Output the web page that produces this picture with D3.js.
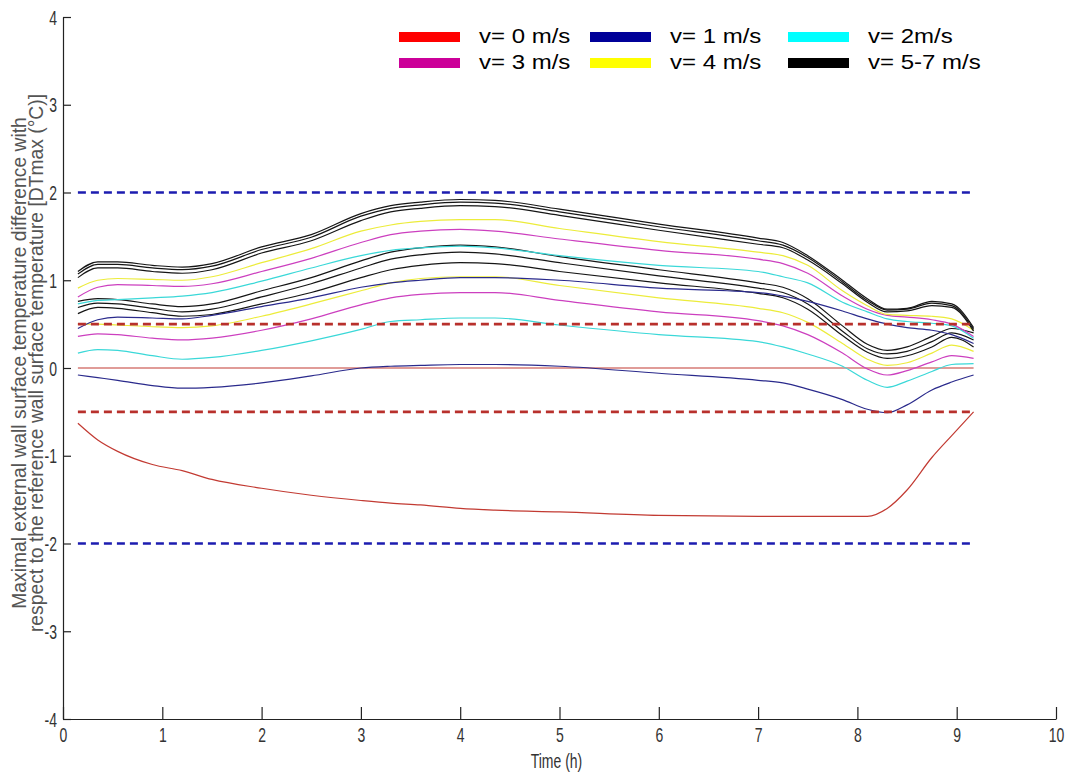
<!DOCTYPE html>
<html>
<head>
<meta charset="utf-8">
<script src="https://cdn.jsdelivr.net/npm/d3@7"></script>
<style>
  html, body { margin: 0; padding: 0; background: #fff; }
  svg { display: block; }
</style>
</head>
<body>
<svg id="chart" width="1065" height="772"></svg>
<script>
// ---------------- data ----------------
const time = [0.15,0.35,0.55,0.9,1.2,1.5,2.0,2.5,3.0,3.3,3.6,4.0,4.35,5.0,6.0,7.0,7.25,7.5,7.85,8.1,8.3,8.5,8.75,8.95,9.17];

// upper case
const black1a = [1.10,1.21,1.21,1.17,1.15,1.19,1.38,1.52,1.76,1.85,1.89,1.92,1.91,1.81,1.64,1.48,1.43,1.28,1.00,0.79,0.67,0.68,0.76,0.73,0.46];
const black1b = [1.07,1.18,1.18,1.14,1.12,1.16,1.35,1.49,1.73,1.82,1.86,1.89,1.88,1.78,1.61,1.45,1.40,1.26,0.98,0.77,0.66,0.67,0.74,0.71,0.44];
const black1c = [1.03,1.14,1.14,1.10,1.08,1.12,1.31,1.45,1.68,1.78,1.82,1.85,1.84,1.74,1.57,1.41,1.37,1.23,0.96,0.75,0.64,0.65,0.71,0.69,0.42];
const yellow1 = [0.91,1.00,1.02,1.01,1.00,1.04,1.20,1.36,1.56,1.63,1.67,1.69,1.69,1.59,1.44,1.32,1.28,1.17,0.88,0.71,0.61,0.60,0.59,0.56,0.43];
const magenta1 = [0.81,0.92,0.95,0.94,0.93,0.96,1.10,1.25,1.43,1.52,1.56,1.58,1.56,1.47,1.34,1.24,1.19,1.08,0.82,0.67,0.60,0.58,0.55,0.50,0.36];
const cyan1 = [0.73,0.77,0.78,0.80,0.82,0.86,0.99,1.14,1.28,1.34,1.37,1.39,1.37,1.28,1.17,1.10,1.04,0.97,0.75,0.64,0.56,0.53,0.51,0.48,0.34];
const navy1 = [0.45,0.55,0.58,0.57,0.56,0.60,0.70,0.80,0.92,0.97,1.00,1.03,1.03,1.00,0.91,0.86,0.82,0.76,0.65,0.56,0.50,0.46,0.43,0.38,0.28];
const red1 = [0,0,0,0,0,0,0,0,0,0,0,0,0,0,0,0,0,0,0,0,0,0,0,0,0];

// lower case
const black2a = [0.76,0.79,0.78,0.73,0.70,0.73,0.88,1.03,1.22,1.32,1.37,1.40,1.38,1.27,1.12,0.97,0.92,0.79,0.48,0.27,0.20,0.24,0.36,0.45,0.40];
const black2b = [0.69,0.74,0.73,0.68,0.64,0.67,0.81,0.96,1.14,1.24,1.29,1.32,1.30,1.20,1.05,0.91,0.86,0.73,0.42,0.22,0.16,0.19,0.30,0.40,0.32];
const black2c = [0.62,0.69,0.68,0.63,0.59,0.61,0.73,0.86,1.03,1.12,1.17,1.20,1.19,1.10,0.97,0.85,0.80,0.67,0.37,0.18,0.11,0.14,0.24,0.35,0.24];
const yellow2 = [0.50,0.50,0.49,0.47,0.46,0.48,0.59,0.73,0.88,0.97,1.02,1.04,1.04,0.94,0.80,0.68,0.63,0.52,0.28,0.10,0.03,0.06,0.17,0.26,0.19];
const magenta2 = [0.36,0.39,0.38,0.34,0.32,0.34,0.43,0.56,0.72,0.80,0.84,0.86,0.86,0.77,0.64,0.54,0.48,0.38,0.17,-0.01,-0.08,-0.03,0.07,0.14,0.11];
const cyan2 = [0.17,0.21,0.20,0.14,0.10,0.12,0.20,0.31,0.44,0.53,0.55,0.57,0.57,0.49,0.38,0.30,0.24,0.16,0.02,-0.14,-0.22,-0.15,-0.04,0.04,0.05];
const navy2 = [-0.08,-0.11,-0.14,-0.20,-0.23,-0.22,-0.17,-0.09,0.00,0.02,0.03,0.04,0.04,0.02,-0.06,-0.14,-0.17,-0.24,-0.36,-0.47,-0.51,-0.42,-0.25,-0.16,-0.08];
const red2 = [-0.63,-0.82,-0.95,-1.10,-1.17,-1.27,-1.37,-1.45,-1.51,-1.54,-1.56,-1.60,-1.62,-1.64,-1.68,-1.69,-1.69,-1.69,-1.69,-1.69,-1.60,-1.39,-1.02,-0.77,-0.50];

// limit lines
const limitValuesOuter = [2, -2];
const limitValuesInner = [0.5, -0.5];
const limitSpan = [0.15, 9.17];

// axes
const xTicks = [0,1,2,3,4,5,6,7,8,9,10];
const yTicks = [-4,-3,-2,-1,0,1,2,3,4];
const xTitle = "Time (h)";
const yTitleLines = ["Maximal external wall surface temperature difference with",
                     "respect to the reference wall surface temperature [DTmax (°C)]"];

// legend
const legendLabels = ["v= 0 m/s","v= 1 m/s","v= 2m/s","v= 3 m/s","v= 4 m/s","v= 5-7 m/s"];
const legendColors = ["#ff0000","#000099","#00ffff","#cc0099","#ffff00","#000000"];

// series -> colour mapping (index into legend)
const seriesList = [
  {values: red1, c: 0}, {values: red2, c: 0},
  {values: navy2, c: 1},
  {values: cyan2, c: 2}, {values: magenta2, c: 3}, {values: yellow2, c: 4},
  {values: black2c, c: 5}, {values: black2b, c: 5}, {values: black2a, c: 5},
  {values: navy1, c: 1},
  {values: cyan1, c: 2}, {values: magenta1, c: 3}, {values: yellow1, c: 4},
  {values: black1c, c: 5}, {values: black1b, c: 5}, {values: black1a, c: 5}
];
const lineColors = ["#c23a32","#2a2a8c","#3ad8d8","#cc3fbf","#ecec3a","#151515"];

// ---------------- drawing ----------------
const svg = d3.select("#chart");
const mLeft = 63, mRight = 1056, mTop = 17, mBottom = 719;
const x = d3.scaleLinear().domain([0,10]).range([mLeft,mRight]);
const y = d3.scaleLinear().domain([-4,4]).range([mBottom,mTop]);

const sans = "'Liberation Sans',Arial,sans-serif";
const narrowScale = 0.7;

// series
const line = d3.line().x(d => x(d[0])).y(d => y(d[1])).curve(d3.curveMonotoneX);
svg.append("g").selectAll("path").data(seriesList).join("path")
  .attr("d", s => line(time.map((t,i) => [t, s.values[i]])))
  .attr("fill","none")
  .attr("stroke", s => lineColors[s.c])
  .attr("stroke-width", 1.2);

// limit lines
const lim = svg.append("g");
limitValuesOuter.forEach(v => {
  lim.append("line").attr("x1", x(limitSpan[0])).attr("x2", x(limitSpan[1]))
    .attr("y1", y(v)).attr("y2", y(v))
    .attr("stroke","#1c1cb0").attr("stroke-width",2.6).attr("stroke-dasharray","8,5");
});
limitValuesInner.forEach(v => {
  lim.append("line").attr("x1", x(limitSpan[0])).attr("x2", x(limitSpan[1]))
    .attr("y1", y(v)).attr("y2", y(v))
    .attr("stroke","#b8302c").attr("stroke-width",2.6).attr("stroke-dasharray","8,5");
});

// axes
const gx = svg.append("g").attr("transform", `translate(0,${mBottom})`)
  .call(d3.axisBottom(x).tickValues(xTicks).tickFormat(d3.format("d"))
        .tickSizeInner(-12).tickSizeOuter(0).tickPadding(9));
const gy = svg.append("g").attr("transform", `translate(${mLeft},0)`)
  .call(d3.axisLeft(y).tickValues(yTicks).tickFormat(d => String(d))
        .tickSizeInner(-8).tickSizeOuter(0).tickPadding(6));
[gx, gy].forEach(g => {
  g.select(".domain").attr("stroke","#222").attr("stroke-width",1.2);
  g.selectAll(".tick line").attr("stroke","#222").attr("stroke-width",1.2);
  g.selectAll(".tick text").attr("font-family", sans).attr("font-size", 20).attr("fill","#333");
});
// narrow, tall tick labels (condensed look of the original)
gx.selectAll(".tick text").attr("y", null).attr("dy", null)
  .attr("transform", `translate(0,23) scale(${narrowScale},1)`);
gy.selectAll(".tick text").attr("x", null).attr("dy", null)
  .attr("transform", `translate(-6,7) scale(${narrowScale},1)`);

// axis titles
svg.append("text")
  .attr("transform", `translate(${(mLeft+mRight)/2 - 3},768) scale(${narrowScale},1)`)
  .attr("text-anchor","middle").attr("font-family", sans).attr("font-size", 20)
  .attr("fill","#333").text(xTitle);

const yt = svg.append("g");
yTitleLines.forEach((t,i) => {
  yt.append("text")
    .attr("transform", `translate(${26 + i*17},${363}) rotate(-90)`)
    .attr("text-anchor","middle")
    .attr("font-family", sans).attr("font-size", 19.3)
    .attr("fill","#555").text(t);
});

// legend
const legCols = [399, 590, 788];
const legRows = [32, 58];
const leg = svg.append("g");
legendLabels.forEach((lab, i) => {
  const cx = legCols[i % 3], ry = legRows[Math.floor(i / 3)];
  leg.append("rect").attr("x", cx).attr("y", ry).attr("width", 61).attr("height", 10)
    .attr("fill", legendColors[i]);
  leg.append("text")
    .attr("transform", `translate(${cx + 80},${ry + 10.5}) scale(1.2,1)`)
    .attr("font-family", sans).attr("font-size", 20)
    .attr("fill","#000").text(lab);
});
</script>
</body>
</html>
